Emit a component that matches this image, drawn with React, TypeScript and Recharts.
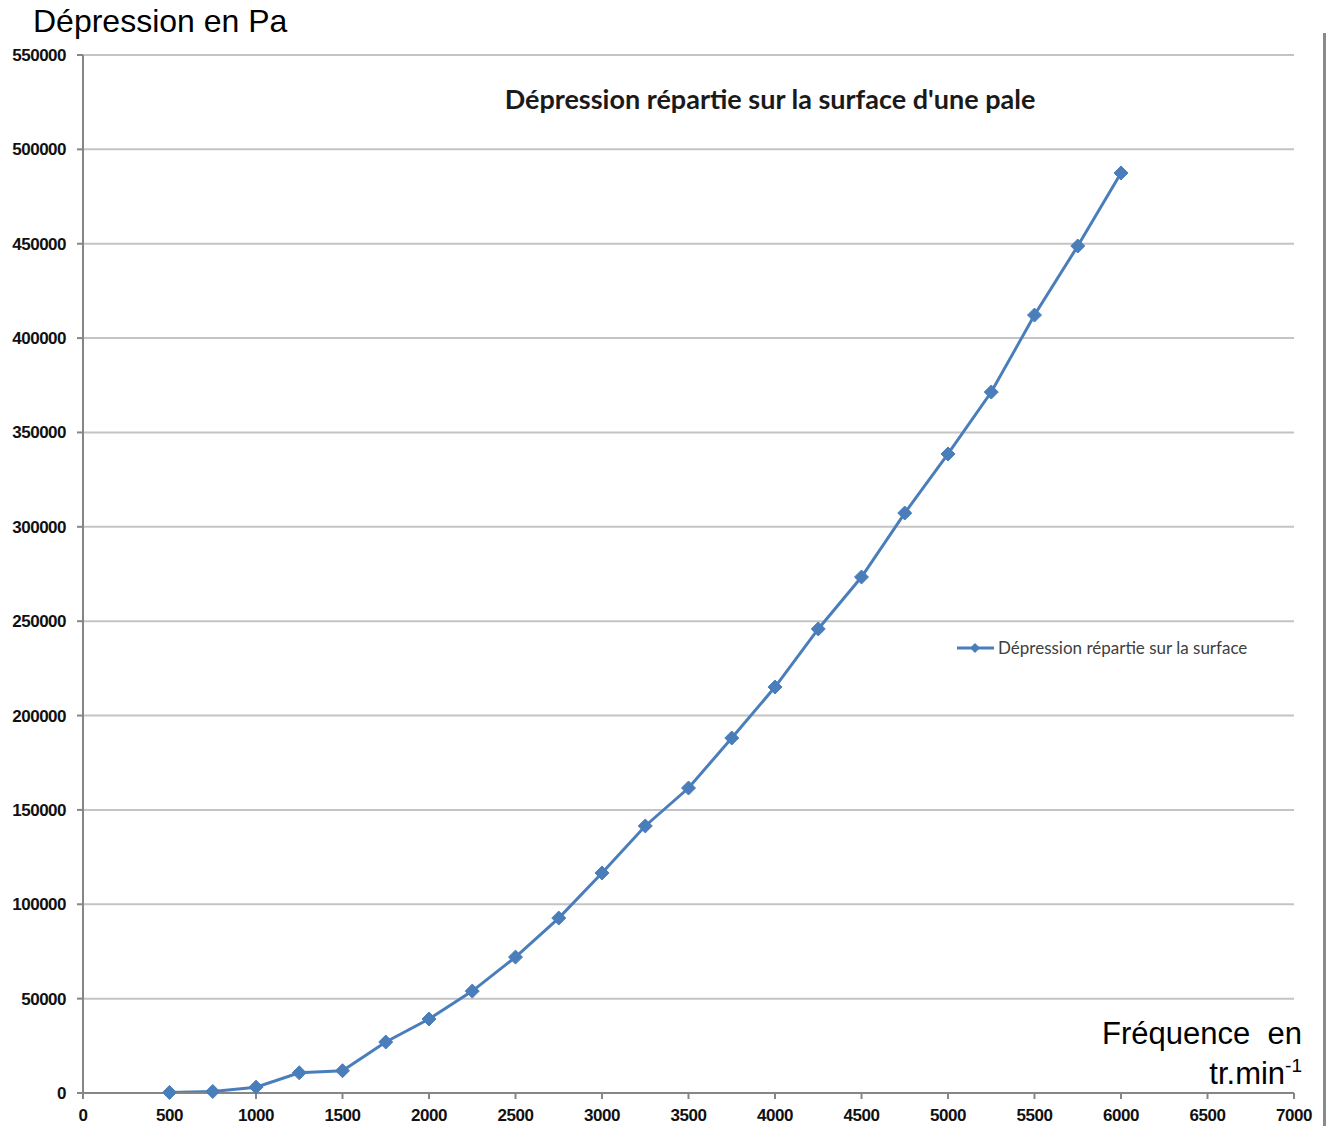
import React from 'react';
import { LineChart, Line, XAxis, YAxis, CartesianGrid } from 'recharts';

const frequencies = [500, 750, 1000, 1250, 1500, 1750, 2000, 2250, 2500, 2750, 3000, 3250, 3500, 3750, 4000, 4250, 4500, 4750, 5000, 5250, 5500, 5750, 6000];
const depressions = [300, 800, 3100, 10700, 11800, 27000, 39200, 54000, 72000, 92700, 116600, 141500, 161600, 188100, 215100, 245900, 273400, 307300, 338600, 371400, 412200, 448800, 487500];
const xTicks = [0, 500, 1000, 1500, 2000, 2500, 3000, 3500, 4000, 4500, 5000, 5500, 6000, 6500, 7000];
const yTicks = [0, 50000, 100000, 150000, 200000, 250000, 300000, 350000, 400000, 450000, 500000, 550000];

const data = frequencies.map((f, i) => ({ f, p: depressions[i] }));

const BLUE = '#4a7ebb';
const tickStyle = { fill: '#111', fontSize: 17, fontWeight: 700, fontFamily: 'Liberation Sans, Arial, sans-serif', letterSpacing: -0.5 };

// diamond marker like the Excel series
const Diamond = (props: any) => {
  const { cx, cy, index } = props;
  if (cx == null || cy == null) return null;
  const r = 7;
  return <polygon key={index} points={`${cx},${cy - r} ${cx + r},${cy} ${cx},${cy + r} ${cx - r},${cy}`} fill={BLUE} stroke={BLUE} strokeWidth={1} />;
};

export default function App() {
  return (
    <div style={{ position: 'absolute', left: 0, top: 0, width: 1328, height: 1126, background: '#fff', overflow: 'hidden' }}>
      <LineChart width={1328} height={1126} data={data} margin={{ top: 55, right: 34, bottom: 0, left: 0 }}>
        <CartesianGrid horizontal vertical={false} stroke="#c4c4c4" strokeWidth={2} />
        <XAxis
          type="number"
          dataKey="f"
          domain={[0, 7000]}
          ticks={xTicks}
          interval={0}
          stroke="#868686"
          strokeWidth={2}
          tickSize={6}
          tick={tickStyle}
          tickMargin={10}
          height={33}
        />
        <YAxis
          type="number"
          domain={[0, 550000]}
          ticks={yTicks}
          interval={0}
          stroke="#868686"
          strokeWidth={2}
          tickSize={6}
          tick={tickStyle}
          tickMargin={11}
          width={83}
        />
        <Line
          type="linear"
          dataKey="p"
          name="Dépression répartie sur la surface"
          stroke={BLUE}
          strokeWidth={3}
          dot={<Diamond />}
          activeDot={false}
          isAnimationActive={false}
        />
      </LineChart>
      {/* legend */}
      <div style={{ position: 'absolute', left: 956, top: 637, display: 'flex', alignItems: 'center', fontFamily: 'Lato, Open Sans, sans-serif', fontSize: 17, color: '#404040' }}>
        <svg width={40} height={14}>
          <line x1={1} y1={7} x2={38} y2={7} stroke={BLUE} strokeWidth={3} />
          <polygon points="19,2 24,7 19,12 14,7" fill={BLUE} />
        </svg>
        <span style={{ marginLeft: 2 }}>Dépression répartie sur la surface</span>
      </div>
      <div style={{ position: 'absolute', left: 0, top: 82, width: 1540, textAlign: 'center', fontFamily: 'Lato, Open Sans, sans-serif', fontWeight: 700, fontSize: 27, color: '#1a1a1a' }}>
        Dépression répartie sur la surface d'une pale
      </div>
      <div style={{ position: 'absolute', left: 33, top: 1, fontFamily: 'Liberation Sans, Arial, sans-serif', fontSize: 32, lineHeight: '40px', color: '#000' }}>
        Dépression en Pa
      </div>
      <div style={{ position: 'absolute', right: 26, top: 1014, textAlign: 'right', fontFamily: 'Liberation Sans, Arial, sans-serif', fontSize: 31, color: '#000', lineHeight: '40px' }}>
        <div style={{ whiteSpace: 'pre' }}>Fréquence  en</div>
        <div>tr.min<sup style={{ fontSize: 19, verticalAlign: 'top', position: 'relative', top: -8 }}>-1</sup></div>
      </div>
      <div style={{ position: 'absolute', left: 1323, top: 33, width: 3, height: 1093, background: '#8a8a8a' }} />
    </div>
  );
}
